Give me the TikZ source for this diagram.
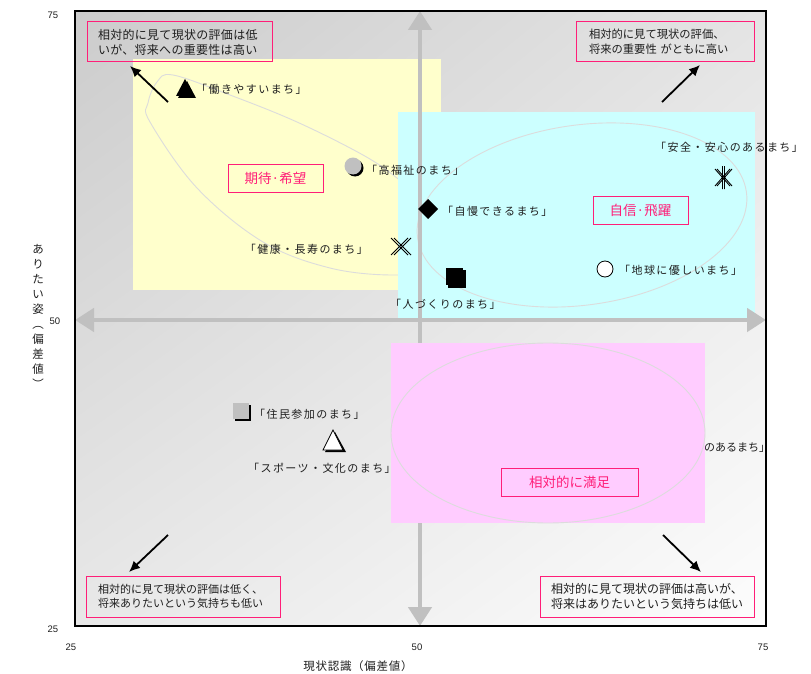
\documentclass[tikz,border=0pt]{standalone}
\usepackage{fontspec}
\setmainfont{Noto Sans CJK JP}
\newfontfamily\numfont{Liberation Sans}
\newfontfamily\lblfont{Noto Sans CJK JP}[LetterSpace=13]
\newfontfamily\notefont{Noto Sans CJK JP}[LetterSpace=2.5]
\newfontfamily\titlefont{Noto Sans CJK JP}[LetterSpace=6]
\usetikzlibrary{arrows.meta,shadings}

\definecolor{accent}{RGB}{255,30,120}
\definecolor{paleyellow}{RGB}{255,255,204}
\definecolor{palecyan}{RGB}{204,255,255}
\definecolor{palepink}{RGB}{255,204,255}
\definecolor{axisgray}{RGB}{192,192,192}
\definecolor{ringgray}{RGB}{220,220,220}
\definecolor{markgray}{RGB}{192,192,192}
\definecolor{ink}{RGB}{30,30,30}
\definecolor{bgul}{RGB}{204,204,204}
\definecolor{bgur}{RGB}{228,228,228}
\definecolor{bgll}{RGB}{232,232,232}
\definecolor{bglr}{RGB}{253,253,253}

\begin{document}
\begin{tikzpicture}[x=1pt,y=-1pt,
  axisarrow/.style={draw=axisgray, line width=4.5pt,
    {Triangle[length=19pt,width=23pt]}-{Triangle[length=19pt,width=23pt]}},
  ring/.style={draw=ringgray, line width=0.9pt},
  pointer/.style={draw=black, line width=1.8pt, -{Latex[length=11pt,width=10pt]}},
  lbl/.style={font=\lblfont\fontsize{11}{13}\selectfont, text=ink, inner sep=0pt, anchor=west},
  cat/.style={draw=accent, line width=1pt, text=accent, inner sep=0pt,
    font=\fontsize{13.5}{15}\selectfont},
  callout/.style={draw=accent, line width=1pt, text=ink, align=left, inner ysep=0pt,
    font=\notefont\fontsize{12}{15}\selectfont},
  tick/.style={font=\numfont\fontsize{9.5}{11}\selectfont, text=ink, inner sep=0pt},
  axtitle/.style={font=\titlefont\fontsize{11.5}{15}\selectfont, text=ink, inner sep=0pt}
]
\useasboundingbox (0,0) rectangle (811,674);
\fill[white] (0,0) rectangle (811,674);

% plotting area with its soft grey gradient
\shade[upper left=bgul, upper right=bgur, lower left=bgll, lower right=bglr]
  (75,11) rectangle (766,626);

% hope zone with its freehand ring
\fill[paleyellow] (133,59) rectangle (441,290);
\draw[ring] plot[smooth cycle, tension=0.6] coordinates {
  (173,75) (230,95) (297,122) (363,155) (397,178) (428,205) (440,238)
  (425,268) (393,275) (330,268) (263,242) (197,188) (150,122) (148,103) (157,82)};

% confidence zone
\fill[palecyan] (398,112) rectangle (755,319);
\draw[ring, rotate around={8:(582,215)}] (582,215) ellipse [x radius=166, y radius=90];

% axes
\coordinate (xl) at (75,320);
\coordinate (xr) at (766,320);
\coordinate (yt) at (420,11);
\coordinate (yb) at (420,626);
\draw[axisarrow] (xl) -- (xr);
\draw[axisarrow] (yt) -- (yb);

% label partly hidden by the satisfied zone and cut by the frame
\begin{scope}
  \clip (75,11) rectangle (766,626);
  \node[lbl, font=\fontsize{11}{13}\selectfont] (lblhidden) at (704,448) {のあるまち」};
\end{scope}

% satisfied zone
\fill[palepink] (391,343) rectangle (705,523);
\draw[ring] (548,433) ellipse [x radius=157, y radius=90];

% frame
\draw[line width=1.6pt] (75,11) rectangle (766,626);

% markers
% filled triangle
\fill (187,81) -- (196,98) -- (178,98) -- cycle;
\fill (185,79) -- (194,96) -- (176,96) -- cycle;
% grey circle
\fill (355,168) circle (8.5);
\fill[markgray] (353,166) circle (8.5);
% diamond
\fill (428,199) -- (438,209) -- (428,219) -- (418,209) -- cycle;
% double cross
\foreach \o in {0,3}{
  \draw[line width=0.9pt] (391+\o,238) -- (408+\o,255) (391+\o,255) -- (408+\o,238);
}
% black square
\fill (448,270) rectangle (466,288);
\fill (446,268) rectangle (463,285);
% white circle
\draw[fill=white, line width=0.8pt] (605,269) circle (8);
% asterisk
\foreach \o in {0,2}{
  \draw[line width=0.9pt] (715+\o,169) -- (730+\o,186) (715+\o,186) -- (730+\o,169)
        (722.5+\o,166) -- (722.5+\o,189);
}
% grey square
\fill (235,405) rectangle (251,421);
\fill[markgray] (233,403) rectangle (249,419);
% white triangle
\fill (335,432) -- (346,452) -- (325,452) -- cycle;
\draw[fill=white, line width=0.8pt] (333,430) -- (343,450) -- (323,450) -- cycle;

% point labels
\node[lbl] (lwork) at (196,89) {「働きやすいまち」};
\node[lbl] (lwelfare) at (366,170) {「高福祉のまち」};
\node[lbl] (lpride) at (442,211) {「自慢できるまち」};
\node[lbl, anchor=east] (lhealth) at (368,249) {「健康・長寿のまち」};
\node[lbl] (lpeople) at (390,304) {「人づくりのまち」};
\node[lbl] (learth) at (619,270) {「地球に優しいまち」};
\node[lbl] (lsafe) at (655,147) {「安全・安心のあるまち」};
\node[lbl] (lcitizen) at (254,414) {「住民参加のまち」};
\node[lbl] (lsport) at (248,468) {「スポーツ・文化のまち」};

% zone titles
\node[cat, minimum width=95, minimum height=28] (zhope) at (275.5,178) {期待·希望};
\node[cat, minimum width=95, minimum height=28] (zconf) at (640.5,210) {自信·飛躍};
\node[cat, minimum width=137, minimum height=28] (zsat) at (569.5,482) {相対的に満足};

% quadrant notes
\node[callout, minimum height=40, inner xsep=11, text width=163] (ntl) at (179.5,42)
  {相対的に見て現状の評価は低\\いが、将来への重要性は高い};
\node[callout, font=\fontsize{11.3}{15}\selectfont, minimum height=40, inner xsep=13,
  text width=152] (ntr) at (665,42)
  {相対的に見て現状の評価、\\将来の重要性~がともに高い};
\node[callout, font=\fontsize{11}{14.5}\selectfont, minimum height=41, inner xsep=12,
  text width=170] (nbl) at (183,596.5)
  {相対的に見て現状の評価は低く、\\将来ありたいという気持ちも低い};
\node[callout, font=\fontsize{12}{14.5}\selectfont, minimum height=41, inner xsep=11,
  text width=192] (nbr) at (647,596.5)
  {相対的に見て現状の評価は高いが、\\将来はありたいという気持ちは低い};

% pointers towards the corner notes
\coordinate (ptl0) at (168,102); \coordinate (ptl1) at (130,66);
\coordinate (ptr0) at (662,102); \coordinate (ptr1) at (700,65);
\coordinate (pbl0) at (168,535); \coordinate (pbl1) at (129,572);
\coordinate (pbr0) at (663,535); \coordinate (pbr1) at (701,572);
\draw[pointer] (ptl0) -- (ptl1);
\draw[pointer] (ptr0) -- (ptr1);
\draw[pointer] (pbl0) -- (pbl1);
\draw[pointer] (pbr0) -- (pbr1);

% scale numbers
\node[tick] (ty75) at (53,15) {75};
\node[tick] (ty50) at (55,321) {50};
\node[tick] (ty25) at (53,629) {25};
\node[tick] (tx25) at (71,647) {25};
\node[tick] (tx50) at (417,647) {50};
\node[tick] (tx75) at (763,647) {75};

% axis titles
\node[axtitle] (xtitle) at (358,666) {現状認識（偏差値）};
\node[axtitle, align=center] (ytitle) at (38,316)
  {あ\\り\\た\\い\\姿\\︵\\偏\\差\\値\\︶};
\end{tikzpicture}
\end{document}
